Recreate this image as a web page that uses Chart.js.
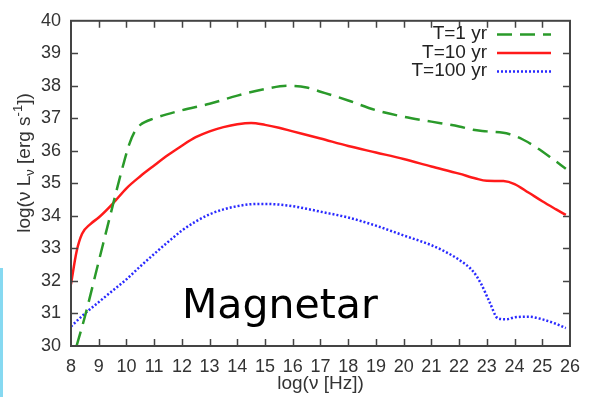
<!DOCTYPE html>
<html>
<head>
<meta charset="utf-8">
<script src="https://cdn.jsdelivr.net/npm/chart.js@4.4.1/dist/chart.umd.min.js"></script>
<style>
  html, body { margin: 0; padding: 0; background: #fff; }
  #wrap { position: relative; width: 590px; height: 397px; }
  #edge { position: absolute; left: 0; top: 268px; width: 3px; height: 129px; background: #86d9f1; }
</style>
</head>
<body>
<div id="wrap">
  <canvas id="sed" width="590" height="397"></canvas>
  <div id="edge"></div>
</div>
<script>
// log(nu) [Hz] and log(nu L_nu) [erg/s] for each age
var nuT1  = [8.2, 8.5, 9.0, 9.5, 9.8, 10.1, 10.3, 10.5, 11, 12, 13, 14, 15, 15.8, 16.5, 17, 18, 19, 20, 21, 22, 22.5, 23, 23.8, 24.3, 24.8, 25.3, 25.85];
var lumT1 = [30.0, 30.9, 32.6, 34.3, 35.3, 36.2, 36.6, 36.8, 37.0, 37.25, 37.45, 37.7, 37.9, 38.0, 37.95, 37.82, 37.55, 37.25, 37.05, 36.9, 36.75, 36.65, 36.6, 36.52, 36.35, 36.1, 35.8, 35.45];

var nuT10  = [8.0, 8.2, 8.4, 8.7, 9.0, 9.5, 10, 10.5, 11, 11.5, 12, 12.5, 13, 13.5, 14, 14.5, 15, 15.5, 16, 17, 18, 19, 20, 21, 22, 22.6, 23, 23.6, 24, 24.5, 25, 25.5, 25.85];
var lumT10 = [31.9, 32.9, 33.45, 33.75, 33.95, 34.37, 34.85, 35.22, 35.55, 35.87, 36.16, 36.42, 36.6, 36.73, 36.82, 36.86, 36.8, 36.71, 36.6, 36.38, 36.15, 35.95, 35.75, 35.52, 35.3, 35.15, 35.08, 35.07, 34.98, 34.72, 34.45, 34.2, 34.03];

var nuT100  = [8.0, 8.5, 9.0, 9.5, 10, 10.5, 11, 11.5, 12, 12.5, 13, 13.5, 14, 14.5, 15, 15.5, 16, 16.5, 17, 18, 19, 20, 21, 21.5, 22, 22.5, 22.8, 23.1, 23.4, 23.7, 24, 24.5, 25, 25.5, 25.85];
var lumT100 = [30.6, 31.0, 31.35, 31.7, 32.05, 32.45, 32.83, 33.2, 33.55, 33.83, 34.05, 34.2, 34.3, 34.36, 34.37, 34.35, 34.3, 34.22, 34.13, 33.95, 33.7, 33.4, 33.1, 32.9, 32.65, 32.3, 31.9, 31.35, 30.85, 30.82, 30.88, 30.9, 30.82, 30.68, 30.55];

var seriesLabels = ['T=1 yr', 'T=10 yr', 'T=100 yr'];
var xTicks = { min: 8, max: 26, step: 1 };
var yTicks = { min: 30, max: 40, step: 1 };

function pairs(xs, ys) {
  return xs.map(function (x, i) { return { x: x, y: ys[i] }; });
}

var FONT = "'Liberation Sans', Arial, sans-serif";
var AXIS = '#444';

// box frame, inward ticks on all four sides, legend, y title, label
var frame = {
  id: 'frame',
  afterDraw: function (chart) {
    var ctx = chart.ctx, a = chart.chartArea;
    var xs = chart.scales.x, ys = chart.scales.y;
    ctx.save();
    ctx.strokeStyle = AXIS;
    ctx.lineWidth = 2;
    ctx.strokeRect(a.left, a.top, a.right - a.left, a.bottom - a.top);
    ctx.lineWidth = 1.5;
    ctx.beginPath();
    for (var v = xTicks.min + 1; v < xTicks.max; v += xTicks.step) {
      var px = Math.round(xs.getPixelForValue(v)) + 0.5;
      ctx.moveTo(px, a.bottom); ctx.lineTo(px, a.bottom - 7);
      ctx.moveTo(px, a.top); ctx.lineTo(px, a.top + 7);
    }
    for (var w = yTicks.min + 1; w < yTicks.max; w += yTicks.step) {
      var py = Math.round(ys.getPixelForValue(w)) + 0.5;
      ctx.moveTo(a.left, py); ctx.lineTo(a.left + 7, py);
      ctx.moveTo(a.right, py); ctx.lineTo(a.right - 7, py);
    }
    ctx.stroke();

    // legend: right-aligned text, line sample to its right
    ctx.font = '19px ' + FONT;
    ctx.fillStyle = '#222';
    ctx.textAlign = 'right';
    ctx.textBaseline = 'middle';
    chart.data.datasets.forEach(function (ds, i) {
      var y = 34 + i * 18.5;
      ctx.fillText(ds.label, 487, y);
      ctx.save();
      ctx.strokeStyle = ds.borderColor;
      ctx.lineWidth = ds.borderWidth;
      ctx.setLineDash(ds.borderDash || []);
      ctx.beginPath();
      ctx.moveTo(497, y + 0.5); ctx.lineTo(551, y + 0.5);
      ctx.stroke();
      ctx.restore();
    });

    // y axis title with sub/superscripts
    var parts = [
      { t: 'log(\u03bd L', s: 19, dy: 0 },
      { t: '\u03bd', s: 13, dy: 5 },
      { t: ' [erg s', s: 19, dy: 0 },
      { t: '-1', s: 13, dy: -7 },
      { t: '])', s: 19, dy: 0 }
    ];
    var total = 0;
    parts.forEach(function (p) { ctx.font = p.s + 'px ' + FONT; p.w = ctx.measureText(p.t).width; total += p.w; });
    ctx.translate(25, 163);
    ctx.rotate(-Math.PI / 2);
    ctx.textAlign = 'left';
    ctx.fillStyle = '#333';
    var cx = -total / 2;
    parts.forEach(function (p) {
      ctx.font = p.s + 'px ' + FONT;
      ctx.fillText(p.t, cx, p.dy);
      cx += p.w;
    });
    ctx.setTransform(1, 0, 0, 1, 0, 0);

    ctx.font = "41px 'DejaVu Sans', sans-serif";
    ctx.fillStyle = '#000';
    ctx.textAlign = 'left';
    ctx.textBaseline = 'alphabetic';
    ctx.fillText('Magnetar', 182, 318);
    ctx.restore();
  }
};

new Chart(document.getElementById('sed'), {
  type: 'line',
  data: {
    datasets: [
      {
        label: seriesLabels[0],
        data: pairs(nuT1, lumT1),
        borderColor: '#2a9a2a',
        borderWidth: 2.5,
        borderDash: [15, 8],
        pointRadius: 0,
        cubicInterpolationMode: 'monotone'
      },
      {
        label: seriesLabels[1],
        data: pairs(nuT10, lumT10),
        borderColor: '#ff1a1a',
        borderWidth: 2.5,
        pointRadius: 0,
        cubicInterpolationMode: 'monotone'
      },
      {
        label: seriesLabels[2],
        data: pairs(nuT100, lumT100),
        borderColor: '#2a2aff',
        borderWidth: 2.5,
        borderDash: [2, 2],
        pointRadius: 0,
        cubicInterpolationMode: 'monotone'
      }
    ]
  },
  options: {
    responsive: false,
    animation: false,
    layout: { padding: { left: 0, top: 16, right: 17, bottom: 0 } },
    plugins: { legend: { display: false }, tooltip: { enabled: false } },
    scales: {
      x: {
        type: 'linear',
        min: xTicks.min, max: xTicks.max,
        afterFit: function (s) { s.height = 51; },
        grid: { display: false, drawTicks: false },
        border: { display: false },
        ticks: { stepSize: xTicks.step, padding: 10, color: '#333', font: { family: FONT, size: 18 }, maxRotation: 0, autoSkip: false },
        title: { display: true, text: 'log(\u03bd [Hz])', color: '#333', font: { family: FONT, size: 19 }, padding: { top: 0, bottom: 2 } }
      },
      y: {
        type: 'linear',
        min: yTicks.min, max: yTicks.max,
        afterFit: function (s) { s.width = 71; },
        grid: { display: false, drawTicks: false },
        border: { display: false },
        ticks: { stepSize: yTicks.step, padding: 10, color: '#333', font: { family: FONT, size: 18 } }
      }
    }
  },
  plugins: [frame]
});
</script>
</body>
</html>
